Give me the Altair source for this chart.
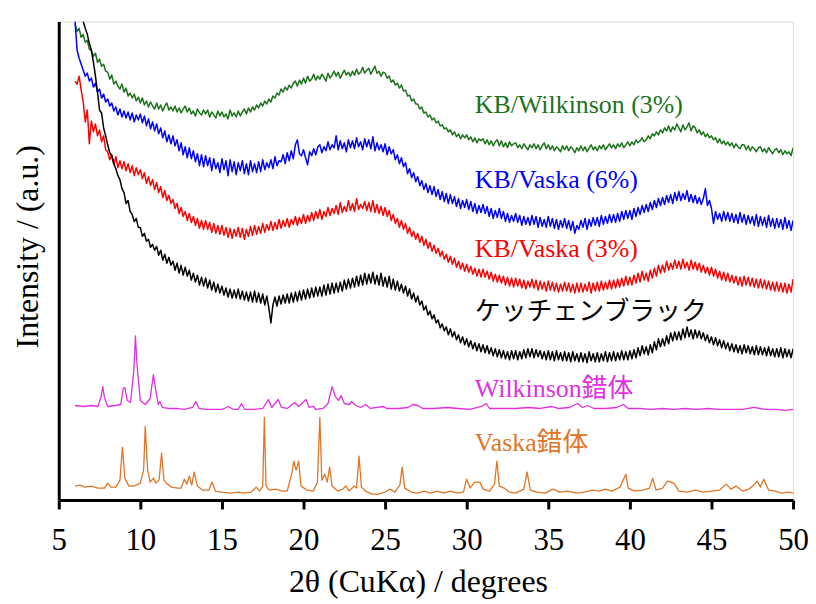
import altair as alt
import pandas as pd

# ---------------- data (intensity in arbitrary units) -------------
STEP = 0.125

green_y = [
    478, 471, 474, 465, 468, 460, 462, 453,
    452, 446, 449, 440, 443, 436, 438, 431,
    430, 423, 427, 418, 421, 416, 413, 418,
    410, 414, 406, 409, 404, 408, 401, 405,
    399, 404, 397, 401, 395, 400, 396, 393,
    399, 393, 397, 391, 396, 399, 392, 395,
    391, 396, 390, 394, 389, 393, 396, 390,
    394, 388, 391, 386, 393, 389, 387, 392,
    388, 392, 385, 390, 387, 384, 391, 386,
    390, 385, 388, 383, 392, 386, 389, 385,
    391, 386, 390, 393, 388, 394, 390, 395,
    392, 397, 394, 399, 396, 401, 398, 403,
    400, 406, 404, 409, 407, 413, 410, 415,
    412, 417, 414, 419, 421, 416, 422, 418,
    424, 419, 426, 421, 423, 428, 422, 426,
    423, 428, 425, 421, 429, 424, 427, 431,
    426, 430, 424, 428, 432, 427, 430, 426,
    431, 427, 433, 428, 430, 435, 429, 432,
    434, 428, 432, 436, 429, 431, 426, 430,
    429, 424, 426, 420, 422, 417, 419, 414,
    417, 411, 412, 406, 407, 401, 403, 398,
    398, 393, 395, 389, 390, 385, 387, 382,
    384, 379, 381, 376, 377, 373, 374, 370,
    372, 367, 370, 365, 368, 363, 367, 364,
    367, 362, 365, 360, 364, 359, 363, 361,
    363, 358, 362, 357, 361, 356, 360, 362,
    356, 361, 355, 359, 354, 360, 356, 358,
    359, 354, 357, 353, 358, 355, 352, 357,
    354, 358, 353, 357, 352, 356, 359, 353,
    357, 352, 356, 351, 355, 353, 350, 356,
    352, 356, 351, 355, 353, 349, 354, 351,
    356, 351, 355, 350, 354, 357, 352, 355,
    351, 356, 353, 357, 352, 355, 358, 354,
    357, 353, 358, 355, 359, 354, 357, 360,
    356, 360, 357, 362, 359, 361, 364, 360,
    362, 366, 363, 368, 366, 370, 367, 372,
    369, 374, 371, 376, 370, 375, 372, 378,
    374, 370, 377, 372, 375, 379, 371, 376,
    374, 369, 372, 367, 370, 365, 368, 364,
    366, 362, 364, 359, 363, 358, 361, 357,
    360, 356, 359, 354, 358, 355, 353, 357,
    357, 352, 356, 351, 355, 353, 350, 354,
    355, 350, 353, 349, 354, 351, 348, 352,
    353, 349, 352, 347, 351, 348, 350, 346,
    354,
]

blue_y = [
    481, 452, 444, 438, 432, 426, 429, 421,
    424, 415, 419, 410, 413, 404, 408, 400,
    403, 396, 399, 391, 395, 387, 393, 385,
    391, 384, 390, 382, 389, 380, 387, 382,
    388, 379, 386, 376, 383, 373, 380, 371,
    378, 368, 374, 364, 371, 360, 367, 358,
    366, 356, 362, 351, 359, 347, 355, 344,
    354, 343, 351, 340, 348, 336, 347, 335,
    346, 336, 344, 331, 343, 333, 339, 329,
    343, 332, 341, 326, 342, 330, 340, 327,
    339, 331, 341, 328, 338, 327, 341, 330,
    338, 329, 340, 330, 342, 332, 339, 334,
    342, 333, 345, 336, 341, 340, 347, 338,
    349, 341, 351, 343, 357, 362, 348, 346,
    352, 344, 337, 350, 346, 353, 347, 355,
    357, 349, 355, 351, 360, 352, 357, 354,
    366, 352, 361, 353, 359, 350, 362, 354,
    361, 353, 364, 355, 360, 352, 363, 355,
    362, 353, 365, 351, 359, 352, 357, 350,
    358, 347, 355, 348, 352, 342, 347, 338,
    344, 335, 339, 328, 333, 324, 329, 320,
    325, 316, 321, 312, 318, 309, 316, 307,
    315, 305, 312, 302, 310, 300, 308, 298,
    307, 298, 305, 295, 303, 293, 301, 294,
    302, 292, 300, 290, 298, 288, 296, 289,
    297, 288, 295, 285, 293, 283, 291, 284,
    293, 283, 290, 280, 288, 279, 286, 280,
    288, 279, 286, 276, 285, 277, 284, 276,
    286, 277, 285, 274, 284, 275, 282, 274,
    285, 275, 283, 273, 282, 272, 281, 274,
    283, 273, 281, 271, 280, 268, 276, 272,
    281, 274, 283, 272, 282, 275, 284, 276,
    284, 275, 286, 277, 285, 278, 287, 279,
    287, 279, 288, 280, 290, 282, 291, 283,
    291, 282, 293, 285, 294, 287, 296, 289,
    297, 290, 299, 292, 301, 294, 303, 296,
    304, 297, 306, 299, 307, 298, 309, 301,
    310, 301, 308, 302, 311, 300, 307, 299,
    306, 298, 304, 297, 303, 313, 296, 301,
    293, 278, 290, 282, 288, 280, 290, 281,
    289, 280, 288, 279, 287, 278, 289, 279,
    287, 277, 286, 278, 285, 276, 287, 275,
    285, 276, 284, 274, 286, 275, 283, 273,
    283, 274, 282, 272, 284, 273, 281, 271,
    281,
]

red_y = [
    421, 418, 426, 412, 400, 380, 392, 358,
    381, 370, 378, 366, 372, 360, 366, 352,
    350, 342, 347, 337, 345, 334, 341, 333,
    340, 331, 338, 329, 336, 326, 334, 327,
    332, 323, 329, 318, 325, 316, 322, 312,
    319, 309, 315, 304, 311, 301, 306, 298,
    302, 293, 298, 288, 294, 285, 290, 281,
    288, 279, 285, 276, 283, 273, 281, 272,
    281, 272, 279, 269, 278, 268, 276, 267,
    276, 266, 274, 264, 273, 263, 272, 265,
    274, 264, 273, 262, 272, 265, 275, 266,
    276, 267, 275, 268, 278, 269, 277, 271,
    280, 271, 279, 272, 282, 273, 281, 275,
    283, 274, 282, 277, 285, 276, 284, 278,
    287, 278, 286, 280, 289, 281, 290, 283,
    292, 282, 290, 285, 294, 286, 293, 288,
    296, 287, 299, 289, 295, 290, 301, 291,
    298, 290, 303, 292, 297, 293, 300, 291,
    299, 290, 301, 289, 297, 288, 295, 286,
    294, 285, 291, 281, 287, 278, 283, 274,
    281, 272, 278, 268, 274, 265, 270, 262,
    268, 259, 265, 256, 262, 253, 259, 250,
    256, 248, 253, 245, 250, 242, 247, 239,
    245, 237, 243, 234, 240, 232, 238, 230,
    237, 229, 235, 227, 233, 225, 232, 224,
    232, 224, 230, 222, 229, 220, 227, 219,
    226, 218, 225, 216, 224, 215, 223, 214,
    223, 215, 222, 213, 221, 212, 220, 214,
    222, 213, 221, 211, 220, 212, 219, 210,
    220, 211, 219, 210, 218, 209, 217, 210,
    219, 210, 218, 209, 217, 208, 218, 209,
    218, 209, 217, 210, 219, 208, 218, 210,
    219, 210, 220, 211, 219, 212, 221, 212,
    221, 213, 222, 214, 223, 215, 225, 216,
    224, 216, 226, 218, 228, 219, 230, 221,
    228, 220, 231, 223, 233, 225, 236, 228,
    236, 229, 240, 231, 238, 232, 241, 233,
    240, 232, 242, 233, 239, 231, 241, 232,
    239, 231, 238, 229, 236, 228, 234, 226,
    234, 225, 232, 223, 230, 221, 229, 220,
    228, 219, 226, 218, 225, 216, 224, 215,
    225, 216, 224, 215, 223, 214, 222, 213,
    222, 213, 221, 212, 220, 211, 219, 210,
    219, 210, 218, 209, 218, 208, 217, 209,
    222,
]

# black trace starts at 6.5 degrees
black_y = [
    481, 474, 468, 459,
    452, 440, 426, 410, 392, 389, 374, 366,
    357, 349, 346, 338, 333, 326, 322, 313,
    309, 298, 301, 290, 287, 280, 283, 274,
    274, 265, 268, 260, 262, 254, 257, 251,
    255, 246, 251, 241, 247, 238, 244, 236,
    240, 231, 238, 228, 236, 226, 234, 225,
    231, 221, 228, 219, 226, 216, 224, 215,
    223, 213, 221, 211, 219, 209, 217, 208,
    215, 206, 213, 204, 212, 203, 211, 203,
    212, 202, 210, 201, 209, 200, 209, 199,
    210, 199, 208, 198, 207, 196, 205, 193,
    178, 196, 204, 195, 205, 197, 206, 198,
    207, 198, 208, 199, 209, 200, 210, 201,
    211, 202, 212, 203, 213, 204, 214, 205,
    214, 205, 216, 206, 217, 207, 218, 208,
    218, 209, 219, 210, 221, 212, 222, 213,
    223, 214, 225, 215, 226, 216, 228, 217,
    227, 218, 229, 217, 226, 216, 228, 215,
    224, 214, 225, 212, 222, 211, 220, 210,
    217, 208, 215, 205, 212, 202, 208, 199,
    205, 196, 200, 191, 195, 186, 190, 182,
    186, 178, 181, 173, 177, 170, 174, 166,
    172, 164, 169, 161, 166, 158, 164, 156,
    162, 154, 160, 152, 158, 150, 157, 149,
    156, 148, 155, 147, 153, 145, 152, 144,
    151, 143, 150, 142, 149, 141, 150, 142,
    150, 141, 149, 142, 151, 143, 152, 144,
    152, 143, 151, 144, 150, 142, 149, 141,
    150, 141, 149, 140, 150, 141, 148, 140,
    149, 140, 148, 139, 149, 140, 147, 139,
    148, 139, 147, 138, 149, 140, 147, 139,
    148, 139, 147, 140, 149, 139, 148, 140,
    149, 140, 148, 141, 150, 141, 149, 141,
    150, 142, 151, 143, 153, 145, 155, 147,
    154, 146, 156, 148, 159, 151, 162, 154,
    162, 155, 165, 157, 168, 160, 169, 161,
    169, 161, 172, 163, 174, 164, 171, 162,
    171, 163, 170, 162, 168, 160, 166, 158,
    164, 156, 163, 155, 161, 153, 160, 152,
    158, 150, 157, 149, 156, 148, 155, 147,
    156, 148, 155, 147, 154, 146, 155, 146,
    154, 146, 153, 145, 154, 145, 152, 144,
    152, 144, 153, 143, 152, 144, 151, 143,
    152,
]

wilk_x = [
    6.0, 6.5, 7.0, 7.4, 7.6, 7.7, 7.8, 8.0, 8.5, 8.8, 8.95, 9.05, 9.2, 9.4, 9.6, 9.7,
    9.8, 10.0, 10.3, 10.6, 10.8, 10.95, 11.1, 11.2, 11.35, 11.7, 12.2, 12.7, 13.2, 13.4,
    13.6, 14.0, 14.5, 15.0, 15.4, 15.7, 16.0, 16.2, 16.4, 17.0, 17.5, 17.85, 18.05, 18.45,
    18.65, 19.0, 19.45, 19.7, 20.15, 20.35, 20.6, 20.75, 21.2, 21.5, 21.75, 21.95, 22.15,
    22.3, 22.5, 22.8, 22.95, 23.2, 23.5, 23.8, 24.1, 24.9, 25.1, 25.8, 26.4, 26.7, 27.0,
    27.3, 28.0, 28.8, 29.5, 30.2, 30.9, 31.2, 31.4, 32.2, 33.0, 33.8, 34.5, 35.2, 35.6,
    36.3, 36.8, 37.1, 37.4, 37.8, 38.5, 39.2, 39.6, 39.9, 40.6, 41.3, 42.0, 42.7, 43.4,
    44.1, 44.8, 45.5, 46.2, 46.9, 47.6, 48.3, 49.0, 49.5, 50.0,
]
wilk_y = [
    95, 94, 95, 94, 104, 114, 103, 94, 95, 96, 112, 113, 100, 98, 130, 165,
    135, 100, 96, 102, 126, 110, 96, 99, 93, 92, 92, 91, 93, 99,
    92, 91, 91, 91, 94, 91, 91, 97, 91, 91, 92, 101, 93, 101,
    93, 92, 98, 94, 101, 93, 94, 91, 92, 97, 114, 104, 100,
    105, 97, 96, 99, 95, 93, 96, 92, 94, 92, 92, 93, 96, 95,
    92, 92, 93, 92, 91, 94, 97, 92, 92, 92, 93, 92, 94, 92,
    93, 97, 93, 95, 92, 92, 93, 96, 92, 92, 91, 92, 91, 92,
    91, 92, 91, 91, 91, 93, 91, 91, 90, 91,
]

vaska_x = [
    6.0, 6.3, 6.6, 7.0, 7.4, 7.8, 8.0, 8.2, 8.5, 8.75, 8.9, 9.05, 9.3, 9.6, 10.0, 10.2,
    10.3, 10.45, 10.6, 10.8, 10.95, 11.15, 11.3, 11.45, 11.65, 11.9, 12.3, 12.5, 12.7,
    12.85, 13.0, 13.15, 13.3, 13.5, 13.8, 14.2, 14.4, 14.6, 15.0, 15.5, 16.0, 16.3, 16.8,
    17.1, 17.3, 17.5, 17.6, 17.7, 17.9, 18.3, 18.7, 19.0, 19.3, 19.4, 19.55, 19.7, 19.85,
    20.2, 20.6, 20.85, 21.0, 21.12, 21.3, 21.45, 21.6, 21.75, 22.1, 22.4, 22.6, 22.8,
    23.1, 23.25, 23.4, 23.55, 23.8, 24.2, 24.6, 25.0, 25.3, 25.6, 25.9, 26.05, 26.2, 26.6,
    27.0, 27.4, 27.8, 28.2, 28.6, 29.0, 29.4, 29.8, 30.0, 30.2, 30.5, 30.8, 31.0, 31.4,
    31.7, 31.85, 32.0, 32.3, 32.6, 33.0, 33.5, 33.7, 33.9, 34.3, 34.8, 35.3, 35.7, 36.2,
    36.7, 37.2, 37.7, 38.1, 38.5, 38.9, 39.4, 39.75, 39.9, 40.3, 40.8, 41.2, 41.4, 41.6,
    42.0, 42.3, 42.7, 43.0, 43.5, 44.0, 44.5, 45.0, 45.5, 45.9, 46.2, 46.5, 46.9, 47.3,
    47.6, 47.8, 48.0, 48.2, 48.5, 48.9, 49.3, 49.7, 50.0,
]
vaska_y = [
    14, 15, 13, 14, 12, 12, 17, 13, 13, 20, 53, 22, 14, 14, 17, 30,
    74, 30, 18, 22, 17, 20, 47, 20, 16, 13, 12, 12, 21,
    16, 24, 15, 28, 14, 10, 10, 18, 9, 8, 7, 8, 7, 8,
    13, 9, 14, 83, 14, 10, 11, 9, 9, 28, 39, 30, 39, 14,
    10, 9, 18, 83, 20, 26, 18, 33, 14, 9, 11, 14, 9,
    14, 12, 44, 13, 9, 6, 6, 8, 11, 8, 15, 33, 12, 8,
    7, 9, 7, 9, 7, 9, 7, 8, 21, 12, 18, 18, 11, 9,
    16, 39, 14, 12, 8, 7, 11, 28, 10, 8, 7, 11, 8, 9,
    7, 8, 10, 9, 11, 9, 13, 26, 12, 9, 10, 12, 22, 10,
    12, 19, 17, 9, 8, 10, 8, 9, 10, 16, 11, 14, 9, 11,
    15, 19, 13, 21, 10, 9, 7, 8, 7,
]

series_names = ["KB/Wilkinson (3%)", "KB/Vaska (6%)", "KB/Vaska (3%)",
                "ケッチェンブラック", "Wilkinson錯体", "Vaska錯体"]
series_colors = ["#1c731c", "#0000ff", "#ff0000", "#000000", "#e030e0", "#e07525"]

label_x = [30.5, 30.5, 30.5, 30.5, 30.5, 30.5]
label_y = [389, 314, 244, 181, 104, 49]

# ---------------- assemble -------------
rows = []


def grid(start, n):
    return [start + STEP * i for i in range(n)]


def add(name, xs, ys, w):
    for xv, yv in zip(xs, ys):
        rows.append({"series": name, "x": xv, "y": yv, "w": w})


add(series_names[0], grid(6.0, len(green_y)), green_y, 1.5)
add(series_names[1], grid(6.0, len(blue_y)), blue_y, 1.5)
add(series_names[2], grid(6.0, len(red_y)), red_y, 1.5)
add(series_names[3], grid(6.5, len(black_y)), black_y, 1.5)
add(series_names[4], wilk_x, wilk_y, 1.3)
add(series_names[5], vaska_x, vaska_y, 1.3)
df = pd.DataFrame(rows)

labels = pd.DataFrame({"series": series_names, "x": label_x, "y": label_y})

FONT = "Liberation Serif, Times New Roman, Noto Sans CJK JP, serif"

x_scale = alt.Scale(domain=[5, 50], nice=False, zero=False)
y_scale = alt.Scale(domain=[0, 481], nice=False, zero=False)
color_scale = alt.Scale(domain=series_names, range=series_colors)

lines = alt.Chart(df).mark_line(clip=True, strokeJoin="round").encode(
    x=alt.X("x:Q", scale=x_scale,
            axis=alt.Axis(title="2θ (CuKα) / degrees", values=[5, 10, 15, 20, 25, 30, 35, 40, 45, 50],
                          grid=False, domainColor="black", domainWidth=3, tickColor="black",
                          tickWidth=3, tickSize=9, labelFont=FONT, labelFontSize=31,
                          labelColor="black", labelFlush=False, labelPadding=41,
                          labelBaseline="alphabetic", titleFont=FONT, titleFontSize=32,
                          titleFontWeight="normal", titleColor="black", titleX=361,
                          titleY=92, titleAlign="center", titleBaseline="alphabetic")),
    y=alt.Y("y:Q", scale=y_scale,
            axis=alt.Axis(title="Intensity / (a.u.)", ticks=False, labels=False, grid=False,
                          domainColor="black", domainWidth=3, titleFont=FONT,
                          titleFontSize=32, titleFontWeight="normal", titleColor="black",
                          titleAngle=270, titleX=-31, titleY=226, titleAlign="center",
                          titleBaseline="middle")),
    color=alt.Color("series:N", scale=color_scale, legend=None),
    strokeWidth=alt.StrokeWidth("w:Q", scale=None, legend=None),
    detail="series:N",
)

texts = alt.Chart(labels).mark_text(align="left", baseline="alphabetic", font=FONT,
                                     fontSize=26).encode(
    x=alt.X("x:Q", scale=x_scale),
    y=alt.Y("y:Q", scale=y_scale),
    color=alt.Color("series:N", scale=color_scale, legend=None),
    text="series:N",
)

chart = (lines + texts).properties(
    width=738, height=481,
    autosize=alt.AutoSizeParams(type="none"),
    padding={"left": 51, "top": 12, "right": 15, "bottom": 101},
).configure_view(stroke=None).configure(background="white")

chart.save("out.html", embed_options={"renderer": "svg", "actions": False})
